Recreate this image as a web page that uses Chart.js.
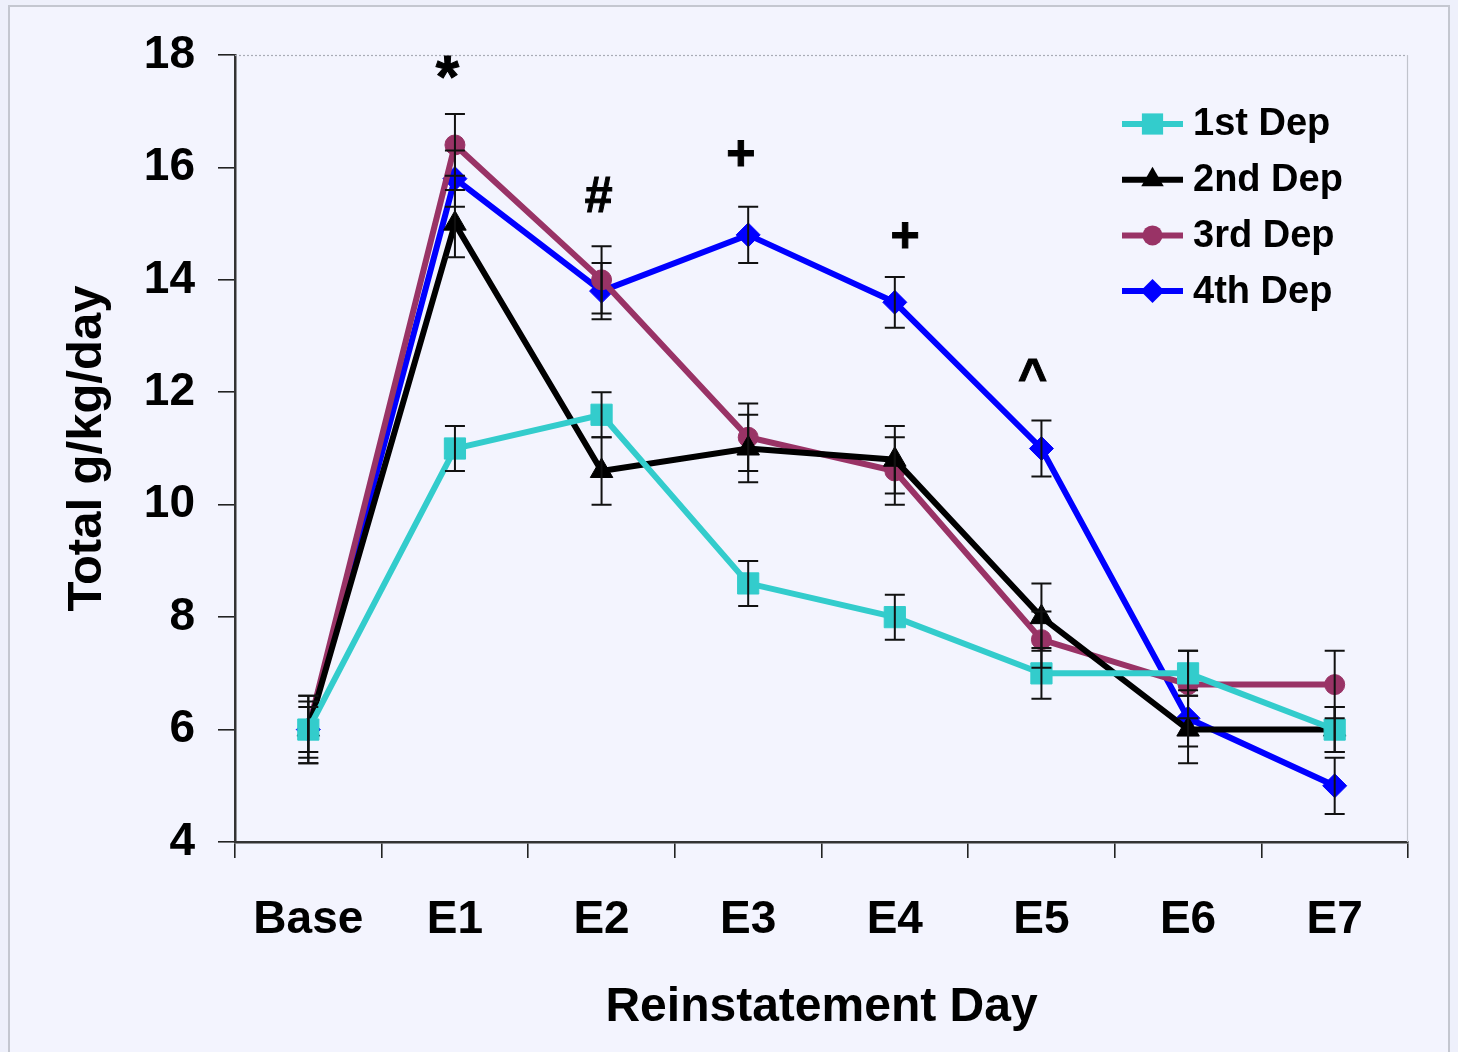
<!DOCTYPE html>
<html>
<head>
<meta charset="utf-8">
<script src="https://cdn.jsdelivr.net/npm/chart.js@4"></script>
<style>
  html, body { margin: 0; padding: 0; background: #eef0fb; }
  #wrap { position: absolute; left: 0; top: 0; width: 1458px; height: 1052px; }
  #frame { position: absolute; left: 8px; top: 5px; width: 1442px; height: 1060px; border: 2px solid #c4c7d0; background: #f3f4fe; box-sizing: border-box; }
  canvas { position: absolute; left: 0; top: 0; }
</style>
</head>
<body>
<div id="wrap">
  <div id="frame"></div>
  <canvas id="c" width="1458" height="1052"></canvas>
</div>
<script>
// ---- data ----
const categories = ['Base', 'E1', 'E2', 'E3', 'E4', 'E5', 'E6', 'E7'];
const seriesNames = ['1st Dep', '2nd Dep', '3rd Dep', '4th Dep'];
const dep1 = [6.0, 11.0, 11.6, 8.6, 8.0, 7.0, 7.0, 6.0];
const dep2 = [6.0, 15.0, 10.6, 11.0, 10.8, 8.0, 6.0, 6.0];
const dep3 = [6.0, 16.4, 14.0, 11.2, 10.6, 7.6, 6.8, 6.8];
const dep4 = [6.0, 15.8, 13.8, 14.8, 13.6, 11.0, 6.2, 5.0];
const err1 = [0.5, 0.4, 0.4, 0.4, 0.4, 0.45, 0.4, 0.4];
const err2 = [0.6, 0.6, 0.6, 0.6, 0.6, 0.6, 0.6, 0.4];
const err3 = [0.6, 0.55, 0.6, 0.6, 0.6, 0.5, 0.6, 0.6];
const err4 = [0.4, 0.5, 0.5, 0.5, 0.45, 0.5, 0.5, 0.5];
const yTicks = [4, 6, 8, 10, 12, 14, 16, 18];
const annotSymbols = ['*', '#', '+', '+', '^'];
const annotX = [0.948, 1.98, 2.95, 4.07, 4.94];
const annotY = [17.25, 15.2, 15.95, 14.5, 11.97];

const FONT = "'Liberation Sans', Arial, sans-serif";

const colors = ['#33cccc', '#000000', '#993366', '#0000ff'];
const shapes = ['rect', 'triangle', 'circle', 'rectRot'];
const radii = [15, 13, 10, 12];
const values = [dep1, dep2, dep3, dep4];
const errors = [err1, err2, err3, err4];

const datasets = seriesNames.map((name, i) => ({
  label: name,
  data: values[i],
  errors: errors[i],
  borderColor: colors[i],
  backgroundColor: colors[i],
  borderWidth: 6,
  pointStyle: shapes[i],
  pointRadius: radii[i],
  pointBorderWidth: 1,
  pointBackgroundColor: colors[i],
  pointBorderColor: colors[i],
  tension: 0,
  fill: false
}));

const framePlugin = {
  id: 'framePlugin',
  beforeDatasetsDraw(chart) {
    const { ctx, chartArea: a } = chart;
    ctx.save();
    ctx.strokeStyle = '#a9acb6';
    ctx.lineWidth = 1.2;
    ctx.setLineDash([2, 2]);
    ctx.beginPath();
    ctx.moveTo(a.left, a.top + 0.5);
    ctx.lineTo(a.right, a.top + 0.5);
    ctx.stroke();
    ctx.setLineDash([]);
    ctx.strokeStyle = '#c0c3cc';
    ctx.beginPath();
    ctx.moveTo(a.right - 0.5, a.top);
    ctx.lineTo(a.right - 0.5, a.bottom);
    ctx.stroke();
    ctx.restore();
  }
};

const errorBarPlugin = {
  id: 'errorBars',
  afterDatasetsDraw(chart) {
    const { ctx, scales: { x, y } } = chart;
    ctx.save();
    ctx.strokeStyle = '#111';
    ctx.lineWidth = 2;
    chart.data.datasets.forEach((ds) => {
      ds.data.forEach((v, j) => {
        const e = ds.errors[j];
        const px = x.getPixelForValue(j);
        const top = y.getPixelForValue(v + e);
        const bot = y.getPixelForValue(v - e);
        ctx.beginPath();
        ctx.moveTo(px, top); ctx.lineTo(px, bot);
        ctx.moveTo(px - 10, top); ctx.lineTo(px + 10, top);
        ctx.moveTo(px - 10, bot); ctx.lineTo(px + 10, bot);
        ctx.stroke();
      });
    });
    ctx.restore();
  }
};

const annotPlugin = {
  id: 'annots',
  afterDraw(chart) {
    const { ctx, scales: { x, y } } = chart;
    ctx.save();
    ctx.fillStyle = '#000';
    ctx.strokeStyle = '#000';
    ctx.lineWidth = 1;
    ctx.textAlign = 'center';
    ctx.textBaseline = 'alphabetic';
    annotSymbols.forEach((s, i) => {
      ctx.font = (s === '*' ? 'bold 60px ' : 'bold 50px ') + FONT;
      const px = x.getPixelForValue(annotX[i]);
      const py = y.getPixelForValue(annotY[i]);
      ctx.fillText(s, px, py);
      ctx.strokeText(s, px, py);
    });
    ctx.restore();
  }
};

function drawMarker(ctx, style, cx, cy, r, color) {
  ctx.fillStyle = color;
  ctx.beginPath();
  if (style === 'rect') {
    const s = r * Math.SQRT1_2;
    ctx.rect(cx - s, cy - s, 2 * s, 2 * s);
  } else if (style === 'triangle') {
    ctx.moveTo(cx, cy - r);
    ctx.lineTo(cx + r * 0.866, cy + r * 0.5);
    ctx.lineTo(cx - r * 0.866, cy + r * 0.5);
    ctx.closePath();
  } else if (style === 'circle') {
    ctx.arc(cx, cy, r, 0, Math.PI * 2);
  } else {
    ctx.moveTo(cx, cy - r);
    ctx.lineTo(cx + r, cy);
    ctx.lineTo(cx, cy + r);
    ctx.lineTo(cx - r, cy);
    ctx.closePath();
  }
  ctx.fill();
}

const legendPlugin = {
  id: 'customLegend',
  afterDraw(chart) {
    const { ctx } = chart;
    const x0 = 1122, x1 = 1183, tx = 1193, y0 = 124, dy = 55.7;
    ctx.save();
    ctx.font = 'bold 38px ' + FONT;
    ctx.textBaseline = 'middle';
    ctx.textAlign = 'left';
    chart.data.datasets.forEach((ds, i) => {
      const yy = y0 + i * dy;
      ctx.strokeStyle = ds.borderColor;
      ctx.lineWidth = 6;
      ctx.beginPath();
      ctx.moveTo(x0, yy); ctx.lineTo(x1, yy);
      ctx.stroke();
      drawMarker(ctx, ds.pointStyle, (x0 + x1) / 2, yy, ds.pointRadius, ds.borderColor);
      ctx.fillStyle = '#000';
      ctx.fillText(ds.label, tx, yy + 1);
    });
    ctx.restore();
  }
};

new Chart(document.getElementById('c'), {
  type: 'line',
  data: { labels: categories, datasets },
  plugins: [framePlugin, errorBarPlugin, annotPlugin, legendPlugin],
  options: {
    responsive: false,
    animation: false,
    devicePixelRatio: 1,
    layout: { padding: { left: 0, right: 50, top: 55, bottom: 0 } },
    plugins: { legend: { display: false }, tooltip: { enabled: false } },
    scales: {
      x: {
        type: 'category',
        offset: true,
        afterFit(s) { s.height = 210; },
        grid: { display: true, drawOnChartArea: false, drawTicks: true, tickLength: 16, color: '#222', lineWidth: 1.6, offset: true },
        border: { display: true, color: '#333', width: 2.5 },
        ticks: { color: '#000', font: { family: FONT, size: 46, weight: 'bold' }, padding: 35, maxRotation: 0, autoSkip: false },
        title: { display: true, text: 'Reinstatement Day', color: '#000', font: { family: FONT, size: 48, weight: 'bold' }, padding: { top: 0, bottom: 15 } }
      },
      y: {
        min: 4, max: 18,
        afterFit(s) { s.width = 235; },
        afterBuildTicks(s) { s.ticks = yTicks.map(v => ({ value: v })); },
        grid: { display: true, drawOnChartArea: false, drawTicks: true, tickLength: 17, color: '#222', lineWidth: 1.6 },
        border: { display: true, color: '#333', width: 2.5 },
        ticks: { color: '#000', font: { family: FONT, size: 46, weight: 'bold' }, padding: 23 },
        title: { display: true, text: 'Total g/kg/day', color: '#000', font: { family: FONT, size: 49, weight: 'bold' }, padding: { top: 58, bottom: 0 } }
      }
    }
  }
});
</script>
</body>
</html>
